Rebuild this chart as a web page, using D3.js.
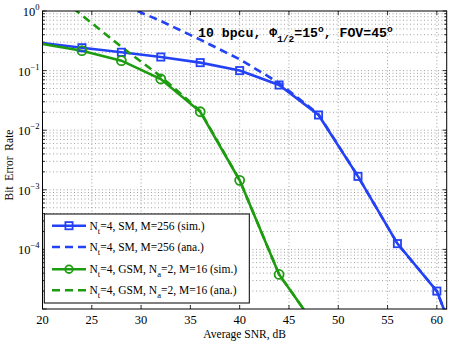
<!DOCTYPE html>
<html><head><meta charset="utf-8">
<script src="https://cdn.jsdelivr.net/npm/d3@7"></script>
<style>body{margin:0;background:#fff}svg{display:block}</style>
</head><body>
<svg id="c" width="452" height="346"></svg>
<script>
const snr = [20,24,28,32,36,40,44,48,52,56,60,64];
const smSim = [0.29,0.242,0.203,0.169,0.136,0.100,0.0573,0.018,0.00168,1.25e-4,2.0e-5,3.9e-7];
const smAna = [5.1,2.6,1.3,0.68,0.33,0.155,0.062,0.0185,0.00168,1.25e-4,2.0e-5,3.9e-7];
const snrG = [20,24,28,32,36,40,44,48];
const gsmSim = [0.28,0.216,0.147,0.0723,0.0204,0.00144,3.8e-5,4.4e-6];
const gsmAna = [2.8,0.85,0.25,0.08,0.021,0.00145,3.8e-5,4.4e-6];
const xTicks = [20,25,30,35,40,45,50,55,60];
const yTicks = [1,1e-1,1e-2,1e-3,1e-4];
const yTickExp = ["0","\u22121","\u22122","\u22123","\u22124"];
const legendLabels = [
  [["N",""],["t","sub"],["=4, SM, M=256 (sim.)",""]],
  [["N",""],["t","sub"],["=4, SM, M=256 (ana.)",""]],
  [["N",""],["t","sub"],["=4, GSM, N",""],["a","sub"],["=2, M=16 (sim.)",""]],
  [["N",""],["t","sub"],["=4, GSM, N",""],["a","sub"],["=2, M=16 (ana.)",""]]
];
const BLUE = "#2442f5", GREEN = "#1e9c10";

const svg = d3.select("#c");
const L = 42.5, R = 446.7, T = 11, B = 309;
const x = d3.scaleLinear().domain([20,61]).range([L,R]);
const y = d3.scaleLog().domain([1e-5,1]).range([B,T]);

svg.append("defs").append("clipPath").attr("id","clip")
  .append("rect").attr("x",L).attr("y",T).attr("width",R-L).attr("height",B-T);

// grid
const grid = svg.append("g").attr("stroke","#8a8a8a").attr("stroke-width",0.8).attr("stroke-dasharray","1,2.5");
xTicks.filter(t=>t>20).forEach(t=>{
  grid.append("line").attr("x1",x(t)).attr("x2",x(t)).attr("y1",T).attr("y2",B);
});
const yAll = [];
for (let e=-5;e<0;e++) for (let m=1;m<10;m++) yAll.push(m*Math.pow(10,e));
yAll.filter(v=>v>1e-5 && v<1).forEach(v=>{
  grid.append("line").attr("x1",L).attr("x2",R).attr("y1",y(v)).attr("y2",y(v));
});

// ticks
const tk = svg.append("g").attr("stroke","#000").attr("stroke-width",0.8);
xTicks.forEach(t=>{
  tk.append("line").attr("x1",x(t)).attr("x2",x(t)).attr("y1",B).attr("y2",B-4);
  tk.append("line").attr("x1",x(t)).attr("x2",x(t)).attr("y1",T).attr("y2",T+4);
});
yAll.filter(v=>v>=1e-5 && v<=1).concat([1]).forEach(v=>{
  const major = Math.abs(Math.log10(v)-Math.round(Math.log10(v)))<1e-9;
  const len = major?4:2.5;
  tk.append("line").attr("x1",L).attr("x2",L+len).attr("y1",y(v)).attr("y2",y(v));
  tk.append("line").attr("x1",R).attr("x2",R-len).attr("y1",y(v)).attr("y2",y(v));
});

// tick labels
const fontSerif = "'Liberation Serif','Times New Roman',serif";
xTicks.forEach(t=>{
  svg.append("text").attr("x",x(t)).attr("y",324).attr("text-anchor","middle")
    .attr("font-family",fontSerif).attr("font-size",12.5).text(t);
});
yTicks.forEach((v,i)=>{
  const tx = svg.append("text").attr("x",L-3).attr("y",y(v)+5).attr("text-anchor","end")
    .attr("font-family",fontSerif).attr("font-size",12.5);
  tx.append("tspan").text("10");
  tx.append("tspan").attr("dy",-6).attr("font-size",8.5).text(yTickExp[i]);
});

// axis labels
svg.append("text").attr("x",(L+R)/2).attr("y",338).attr("text-anchor","middle")
  .attr("font-family",fontSerif).attr("font-size",11.5).text("Average SNR, dB");
svg.append("text").attr("transform",`translate(13,${(T+B)/2+5}) rotate(-90)`).attr("text-anchor","middle")
  .attr("font-family",fontSerif).attr("font-size",11.5).attr("xml:space","preserve").text("Bit  Error  Rate");

// lines
const plot = svg.append("g").attr("clip-path","url(#clip)");
const line = d3.line().x(d=>x(d[0])).y(d=>y(d[1]));
const series = [
  {xs:snr, ys:smSim, color:BLUE, dash:null, marker:"square"},
  {xs:snr, ys:smAna, color:BLUE, dash:"8,5", marker:null},
  {xs:snrG, ys:gsmSim, color:GREEN, dash:null, marker:"circle"},
  {xs:snrG, ys:gsmAna, color:GREEN, dash:"8,5", marker:null}
];
series.forEach(s=>{
  const pts = s.xs.map((v,i)=>[v,s.ys[i]]);
  plot.append("path").attr("d",line(pts)).attr("fill","none").attr("stroke",s.color)
    .attr("stroke-width",2.6).attr("stroke-dasharray",s.dash);
});
series.forEach(s=>{
  if(!s.marker) return;
  const pts = s.xs.map((v,i)=>[v,s.ys[i]]).filter(d=>d[0]>20 && d[0]<=61 && d[1]>=1e-5 && d[1]<=1);
  pts.forEach(d=>{
    if (s.marker==="square") {
      svg.append("rect").attr("x",x(d[0])-3.6).attr("y",y(d[1])-3.6).attr("width",7.2).attr("height",7.2)
        .attr("fill","none").attr("stroke",s.color).attr("stroke-width",1.8);
    } else {
      svg.append("circle").attr("cx",x(d[0])).attr("cy",y(d[1])).attr("r",4.5)
        .attr("fill","none").attr("stroke",s.color).attr("stroke-width",1.8);
    }
  });
});

// annotation
const ann = svg.append("text").attr("x",198).attr("y",37)
  .attr("font-family","'Liberation Mono','Courier New',monospace").attr("font-weight","bold").attr("font-size",13.2)
  .attr("xml:space","preserve");
ann.append("tspan").text("10 bpcu, \u03A6");
ann.append("tspan").attr("dy",5).attr("font-size",9.5).text("1/2");
ann.append("tspan").attr("dy",-5).text("=15");
ann.append("tspan").attr("dy",-5).attr("font-size",9.5).text("o");
ann.append("tspan").attr("dy",5).text(", FOV=45");
ann.append("tspan").attr("dy",-5).attr("font-size",9.5).text("o");

// legend
const lg = svg.append("g");
lg.append("rect").attr("x",44.3).attr("y",214).attr("width",205).attr("height",89)
  .attr("fill","#fff").attr("stroke","#000").attr("stroke-width",1);
const rowY = [225.7,247,269.2,290.3];
series.forEach((s,i)=>{
  const yy = rowY[i];
  lg.append("line").attr("x1",52).attr("x2",86).attr("y1",yy).attr("y2",yy)
    .attr("stroke",s.color).attr("stroke-width",2.6).attr("stroke-dasharray",s.dash);
  if (s.marker==="square") lg.append("rect").attr("x",69-3.6).attr("y",yy-3.6).attr("width",7.2).attr("height",7.2)
    .attr("fill","none").attr("stroke",s.color).attr("stroke-width",1.8);
  if (s.marker==="circle") lg.append("circle").attr("cx",69).attr("cy",yy).attr("r",3.8)
    .attr("fill","none").attr("stroke",s.color).attr("stroke-width",1.8);
  const tx = lg.append("text").attr("x",89.5).attr("y",yy+4).attr("font-family",fontSerif).attr("font-size",11.5);
  let shifted = false;
  legendLabels[i].forEach(([t,kind])=>{
    const sp = tx.append("tspan").text(t);
    if (kind==="sub") { sp.attr("dy",4).attr("font-size",8.5); shifted=true; }
    else if (shifted) { sp.attr("dy",-4); shifted=false; }
  });
});

// frame
svg.append("rect").attr("x",L).attr("y",T).attr("width",R-L).attr("height",B-T)
  .attr("fill","none").attr("stroke","#000").attr("stroke-width",1);
</script>
</body></html>
